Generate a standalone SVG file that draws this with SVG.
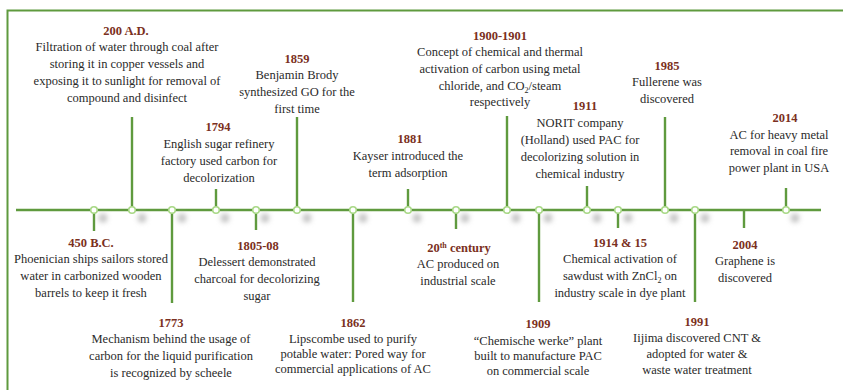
<svg xmlns="http://www.w3.org/2000/svg" width="843" height="390" viewBox="0 0 843 390">
<defs>
<filter id="blur" x="-100%" y="-100%" width="300%" height="300%"><feGaussianBlur stdDeviation="2.6"/></filter>
</defs>
<style>
text{font-family:"Liberation Serif","Times New Roman",serif;font-size:12.5px;fill:#2a2a2a;text-anchor:middle}
.yr{font-weight:bold;fill:#7b3021}
.ln{stroke:#5f9a3e;stroke-width:2.4;fill:none}
.dot{fill:#fff;stroke:#a8d886;stroke-width:1.6}
.sh{fill:#c4c4c4;filter:url(#blur)}
</style>
<rect width="843" height="390" fill="#fff"/>
<path d="M7.5,391 V10.5 H844" fill="none" stroke="#5f9a3e" stroke-width="2"/>
<g id="connectors">
<line class="ln" x1="16" y1="210" x2="821" y2="210"/>
<line class="ln" x1="94" y1="210" x2="94" y2="231"/>
<line class="ln" x1="132" y1="117" x2="132" y2="210"/>
<line class="ln" x1="172" y1="210" x2="172" y2="303"/>
<line class="ln" x1="216" y1="189" x2="216" y2="210"/>
<line class="ln" x1="256" y1="210" x2="256" y2="230"/>
<line class="ln" x1="297" y1="117" x2="297" y2="210"/>
<line class="ln" x1="353" y1="210" x2="353" y2="302"/>
<line class="ln" x1="408" y1="189" x2="408" y2="210"/>
<line class="ln" x1="456" y1="210" x2="456" y2="229"/>
<line class="ln" x1="507" y1="116" x2="507" y2="210"/>
<line class="ln" x1="539" y1="210" x2="539" y2="302"/>
<line class="ln" x1="587" y1="186" x2="587" y2="210"/>
<line class="ln" x1="618" y1="210" x2="618" y2="228"/>
<line class="ln" x1="665" y1="117" x2="665" y2="210"/>
<line class="ln" x1="695" y1="210" x2="695" y2="302"/>
<line class="ln" x1="744" y1="210" x2="744" y2="228"/>
<line class="ln" x1="786" y1="188" x2="786" y2="210"/>
</g>
<g id="shadows">
<circle class="sh" cx="103" cy="218" r="4.5"/>
<circle class="sh" cx="142" cy="218" r="4.5"/>
<circle class="sh" cx="182" cy="218" r="4.5"/>
<circle class="sh" cx="225" cy="218" r="4.5"/>
<circle class="sh" cx="265" cy="218" r="4.5"/>
<circle class="sh" cx="307" cy="218" r="4.5"/>
<circle class="sh" cx="363" cy="218" r="4.5"/>
<circle class="sh" cx="417" cy="218" r="4.5"/>
<circle class="sh" cx="465" cy="218" r="4.5"/>
<circle class="sh" cx="516" cy="218" r="4.5"/>
<circle class="sh" cx="548" cy="218" r="4.5"/>
<circle class="sh" cx="597" cy="218" r="4.5"/>
<circle class="sh" cx="628" cy="218" r="4.5"/>
<circle class="sh" cx="674" cy="218" r="4.5"/>
<circle class="sh" cx="705" cy="218" r="4.5"/>
<circle class="sh" cx="795" cy="218" r="4.5"/>
</g>
<g id="n450bc"><circle class="dot" cx="94" cy="210" r="3.3"/>
<text class="yr" x="91" y="247">450 B.C.</text>
<text x="91" y="263">Phoenician ships sailors stored</text>
<text x="91" y="280">water in carbonized wooden</text>
<text x="91" y="297">barrels to keep it fresh</text></g>
<g id="n200ad"><circle class="dot" cx="132" cy="210" r="3.3"/>
<text class="yr" x="126" y="35">200 A.D.</text>
<text x="127" y="51">Filtration of water through coal after</text>
<text x="127" y="68">storing it in copper vessels and</text>
<text x="127" y="85">exposing it to sunlight for removal of</text>
<text x="127" y="102">compound and disinfect</text></g>
<g id="n1773"><circle class="dot" cx="172" cy="210" r="3.3"/>
<text class="yr" x="171" y="327">1773</text>
<text x="171" y="343">Mechanism  behind the usage of</text>
<text x="171" y="360">carbon for the liquid purification</text>
<text x="171" y="377">is recognized by scheele</text></g>
<g id="n1794"><circle class="dot" cx="216" cy="210" r="3.3"/>
<text class="yr" x="218" y="131">1794</text>
<text x="219" y="148">English sugar refinery</text>
<text x="219" y="165">factory used carbon for</text>
<text x="219" y="182">decolorization</text></g>
<g id="n1805"><circle class="dot" cx="256" cy="210" r="3.3"/>
<text class="yr" x="258" y="250">1805-08</text>
<text x="257" y="266">Delessert demonstrated</text>
<text x="257" y="283">charcoal for decolorizing</text>
<text x="257" y="300">sugar</text></g>
<g id="n1859"><circle class="dot" cx="297" cy="210" r="3.3"/>
<text class="yr" x="297" y="63">1859</text>
<text x="297" y="79">Benjamin Brody</text>
<text x="297" y="96">synthesized GO for the</text>
<text x="297" y="113">first time</text></g>
<g id="n1862"><circle class="dot" cx="353" cy="210" r="3.3"/>
<text class="yr" x="353" y="327">1862</text>
<text x="353" y="343">Lipscombe used to purify</text>
<text x="353" y="358">potable water: Pored way for</text>
<text x="353" y="373">commercial applications of AC</text></g>
<g id="n1881"><circle class="dot" cx="408" cy="210" r="3.3"/>
<text class="yr" x="410" y="143">1881</text>
<text x="408" y="160">Kayser introduced the</text>
<text x="408" y="177">term adsorption</text></g>
<g id="n20c"><circle class="dot" cx="456" cy="210" r="3.3"/>
<text class="yr" x="459" y="252">20<tspan font-size="8" dy="-4">th</tspan><tspan dy="4"> century</tspan></text>
<text x="458" y="268">AC produced on</text>
<text x="458" y="285">industrial scale</text></g>
<g id="n1900"><circle class="dot" cx="507" cy="210" r="3.3"/>
<text class="yr" x="500" y="40">1900-1901</text>
<text x="500" y="56">Concept of chemical and thermal</text>
<text x="500" y="73">activation of carbon using metal</text>
<text x="500" y="90">chloride, and CO<tspan font-size="8" dy="3">2</tspan><tspan dy="-3">/steam</tspan></text>
<text x="500" y="106">respectively</text></g>
<g id="n1909"><circle class="dot" cx="539" cy="210" r="3.3"/>
<text class="yr" x="538" y="328">1909</text>
<text x="538" y="345">“Chemische werke” plant</text>
<text x="538" y="360">built to manufacture PAC</text>
<text x="538" y="375">on commercial scale</text></g>
<g id="n1911"><circle class="dot" cx="587" cy="210" r="3.3"/>
<text class="yr" x="585" y="110">1911</text>
<text x="580" y="127">NORIT company</text>
<text x="580" y="144">(Holland) used PAC for</text>
<text x="580" y="161">decolorizing solution in</text>
<text x="580" y="178">chemical industry</text></g>
<g id="n1914"><circle class="dot" cx="618" cy="210" r="3.3"/>
<text class="yr" x="620" y="247">1914 &amp; 15</text>
<text x="620" y="263">Chemical activation of</text>
<text x="620" y="280">sawdust with ZnCl<tspan font-size="8" dy="3">2</tspan><tspan dy="-3"> on</tspan></text>
<text x="620" y="297">industry scale in dye plant</text></g>
<g id="n1985"><circle class="dot" cx="665" cy="210" r="3.3"/>
<text class="yr" x="667" y="70">1985</text>
<text x="667" y="86">Fullerene was</text>
<text x="667" y="103">discovered</text></g>
<g id="n1991"><circle class="dot" cx="695" cy="210" r="3.3"/>
<text class="yr" x="697" y="326">1991</text>
<text x="697" y="342">Iijima discovered CNT &amp;</text>
<text x="697" y="358">adopted for water &amp;</text>
<text x="697" y="374">waste water treatment</text></g>
<g id="n2004">
<text class="yr" x="745" y="249">2004</text>
<text x="745" y="265">Graphene is</text>
<text x="745" y="282">discovered</text></g>
<g id="n2014"><circle class="dot" cx="786" cy="210" r="3.3"/>
<text class="yr" x="785" y="122">2014</text>
<text x="779" y="139">AC for heavy metal</text>
<text x="779" y="155">removal in coal fire</text>
<text x="779" y="172">power plant in USA</text></g>
</svg>
